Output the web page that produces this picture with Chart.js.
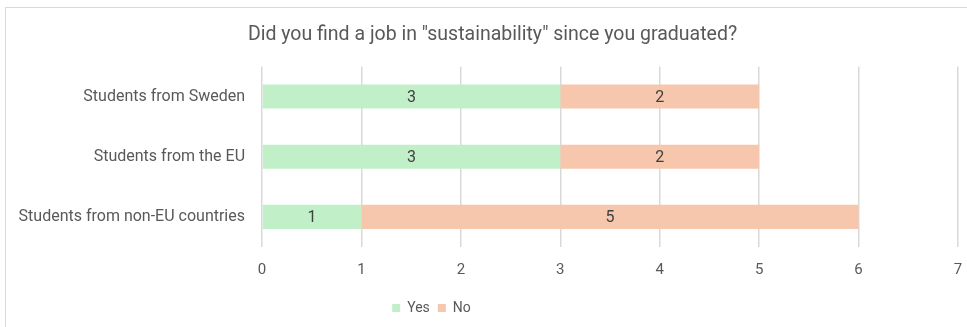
<!DOCTYPE html>
<html>
<head>
<meta charset="utf-8">
<script src="https://cdn.jsdelivr.net/npm/chart.js@4"></script>
<style>
  html, body { margin: 0; padding: 0; background: #fff; overflow: hidden; }
  #frame {
    position: absolute; left: 5px; top: 7px; width: 962px; height: 320px;
    border: 1.5px solid #d9d9d9; border-right: none; border-bottom: none; box-sizing: border-box;
  }
  #wrap { position: absolute; left: 0; top: 0; width: 967px; height: 327px; }
</style>
</head>
<body>
<div id="frame"></div>
<div id="wrap"><canvas id="jobChart"></canvas></div>
<script>
// Réponses par groupe d'étudiants
const groupes = ['Students from Sweden', 'Students from the EU', 'Students from non-EU countries'];
const oui = [3, 3, 1];
const non = [2, 2, 5];
const ticksX = [0, 1, 2, 3, 4, 5, 6, 7];

const gris = '#595959';
const police = "'Roboto', sans-serif";

// Valeur écrite au milieu de chaque segment
const etiquettes = {
    id: 'etiquettes',
    afterDatasetsDraw(chart) {
        const ctx = chart.ctx;
        ctx.save();
        ctx.font = '16px ' + police;
        ctx.fillStyle = '#404040';
        ctx.textAlign = 'center';
        ctx.textBaseline = 'middle';
        chart.data.datasets.forEach((ds, i) => {
            chart.getDatasetMeta(i).data.forEach((bar, j) => {
                const p = bar.getProps(['x', 'y', 'base'], true);
                ctx.fillText(ds.data[j], (p.x + p.base) / 2, p.y + 1);
            });
        });
        ctx.restore();
    }
};

// Titre un peu à droite, légende à gauche
const decalages = {
    id: 'decalages',
    afterLayout(chart) {
        const lg = chart.legend;
        lg.left -= 50;
        lg.right -= 50;
        const t = chart.titleBlock;
        t.left += 11;
        t.right += 11;
    }
};

new Chart(document.getElementById('jobChart'), {
    type: 'bar',
    data: {
        labels: groupes,
        datasets: [
            { label: 'Yes', data: oui, backgroundColor: '#C1F0C8' },
            { label: 'No', data: non, backgroundColor: '#F6C6AD' }
        ]
    },
    options: {
        indexAxis: 'y',
        responsive: true,
        maintainAspectRatio: false,
        animation: false,
        categoryPercentage: 0.4,
        barPercentage: 1,
        layout: { padding: { left: 5, right: 9, top: 23, bottom: 2 } },
        scales: {
            x: {
                stacked: true,
                min: 0,
                max: 7,
                afterBuildTicks(scale) { scale.ticks = ticksX.map(v => ({ value: v })); },
                afterFit(scale) { scale.paddingLeft = 0; scale.paddingRight = 0; },
                grid: { color: '#d9d9d9', lineWidth: 1.5, drawTicks: false },
                border: { display: false },
                ticks: { color: gris, font: { size: 15, family: police }, padding: 14 }
            },
            y: {
                stacked: true,
                grid: { display: false, drawTicks: false },
                border: { display: false },
                afterFit(scale) { scale.width = 257; },
                ticks: { color: gris, font: { size: 16, family: police }, padding: 17 }
            }
        },
        plugins: {
            title: {
                display: true,
                text: 'Did you find a job in "sustainability" since you graduated?',
                color: gris,
                font: { size: 19.5, family: police, weight: 'normal' },
                padding: { top: 0, bottom: 20 }
            },
            legend: {
                position: 'bottom',
                labels: {
                    color: gris,
                    font: { size: 14, family: police },
                    boxWidth: 8,
                    boxHeight: 8,
                    padding: 8
                }
            },
            tooltip: { enabled: false }
        }
    },
    plugins: [etiquettes, decalages]
});
</script>
</body>
</html>
